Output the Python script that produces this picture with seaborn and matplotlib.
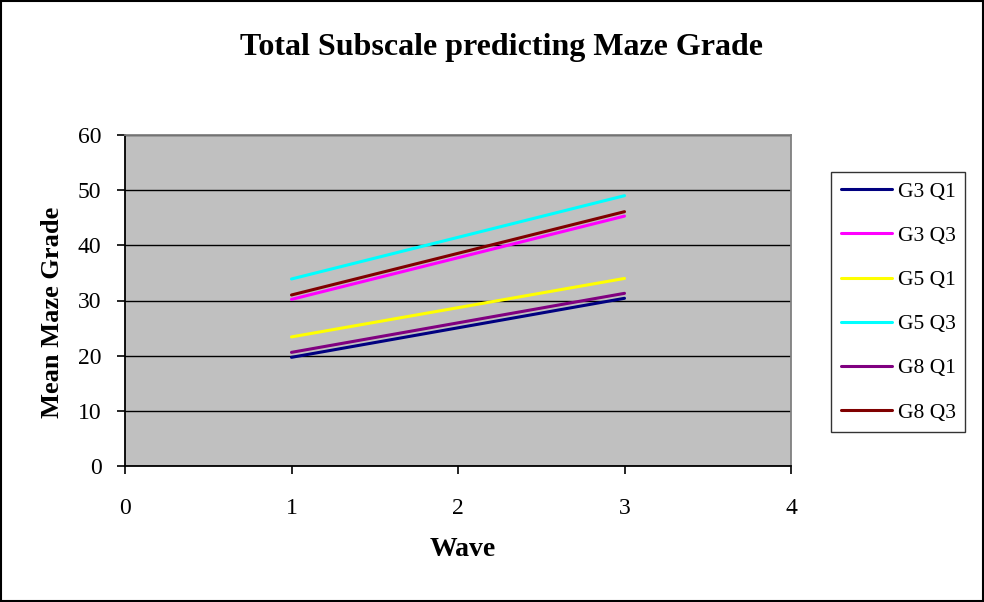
import matplotlib
matplotlib.use("Agg")
import matplotlib.pyplot as plt
import seaborn as sns
import pandas as pd
from matplotlib.patches import Rectangle
from matplotlib.lines import Line2D

# Data: mean maze grade at each wave for grade/quartile groups
waves = [1, 3]
series_names = ["G3 Q1", "G3 Q3", "G5 Q1", "G5 Q3", "G8 Q1", "G8 Q3"]
g3_q1 = [19.7, 30.4]
g3_q3 = [30.2, 45.3]
g5_q1 = [23.4, 34.0]
g5_q3 = [33.9, 49.0]
g8_q1 = [20.6, 31.3]
g8_q3 = [31.0, 46.1]
series_values = [g3_q1, g3_q3, g5_q1, g5_q3, g8_q1, g8_q3]
series_colors = ["#000080", "#FF00FF", "#FFFF00", "#00FFFF", "#800080", "#800000"]
x_ticks = [0, 1, 2, 3, 4]
y_ticks = [0, 10, 20, 30, 40, 50, 60]

rows = []
for name, vals in zip(series_names, series_values):
    for w, v in zip(waves, vals):
        rows.append({"Wave": w, "Mean Maze Grade": v, "Group": name})
df = pd.DataFrame(rows)

sns.set_theme(style="white")
plt.rcParams["font.family"] = ["Liberation Serif", "DejaVu Serif"]
plt.rcParams["text.color"] = "black"
plt.rcParams["axes.labelcolor"] = "black"
plt.rcParams["xtick.color"] = "black"
plt.rcParams["ytick.color"] = "black"

fig = plt.figure(figsize=(9.84, 6.02), dpi=100)
W, H = 984, 602
left, right, top, bottom = 125, 791, 135, 466
ax = fig.add_axes([left / W, 1 - bottom / H, (right - left) / W, (bottom - top) / H])
ax.set_facecolor("#C0C0C0")

sns.lineplot(data=df, x="Wave", y="Mean Maze Grade", hue="Group",
             hue_order=series_names, palette=dict(zip(series_names, series_colors)),
             linewidth=2.2, ax=ax, legend=False)

ax.set_xlim(0, 4)
ax.set_ylim(0, 60)
ax.set_xticks(x_ticks)
ax.set_yticks(y_ticks)
ax.set_xticklabels([str(t) for t in x_ticks], fontsize=17)
ax.set_yticklabels([str(t) for t in y_ticks], fontsize=17)
ax.yaxis.grid(True, color="black", linewidth=1.0)
ax.xaxis.grid(False)
ax.set_axisbelow(True)
ax.tick_params(axis="both", direction="out", length=6, width=1.2, color="black",
               left=True, bottom=True)
ax.tick_params(axis="x", pad=17)
ax.tick_params(axis="y", pad=11)

for side in ["left", "bottom"]:
    ax.spines[side].set_color("black")
    ax.spines[side].set_linewidth(1.3)
for side in ["top", "right"]:
    ax.spines[side].set_color("#808080")
    ax.spines[side].set_linewidth(1.3)

ax.set_xlabel("Wave", fontsize=20, fontweight="bold")
ax.set_ylabel("Mean Maze Grade", fontsize=19, fontweight="bold")
ax.xaxis.set_label_coords(0.5075, -0.215)
ax.yaxis.set_label_coords(-0.092, 0.465)

fig.text(502 / W, 1 - 47 / H, "Total Subscale predicting Maze Grade",
         ha="center", va="center", fontsize=23, fontweight="bold")

# Legend
handles = [Line2D([0], [0], color=c, linewidth=2.2) for c in series_colors]
leg = fig.legend(handles, series_names, loc="upper left",
                 bbox_to_anchor=(831 / W, 1 - 172 / H), fontsize=15.5,
                 frameon=True, fancybox=False, handlelength=2.4, handletextpad=0.25,
                 labelspacing=1.12, borderpad=0.45, borderaxespad=0)
leg.get_frame().set_edgecolor("black")
leg.get_frame().set_linewidth(1.0)
leg.get_frame().set_facecolor("white")

# Outer chart border
fig.patches.append(Rectangle((0.001, 0.001), 0.998, 0.997, transform=fig.transFigure,
                             fill=False, edgecolor="black", linewidth=1.5))

fig.savefig("out.png", dpi=100, facecolor="white")
